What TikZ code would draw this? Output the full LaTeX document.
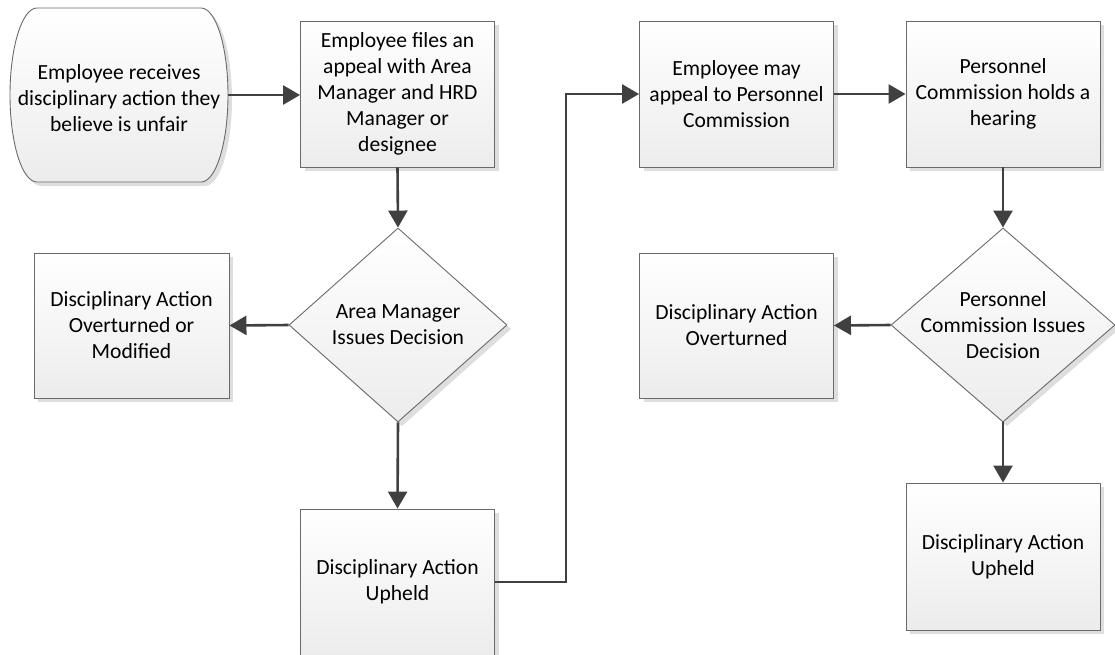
\documentclass[tikz,border=0pt]{standalone}
\usepackage{fontspec}
\setmainfont{Carlito}
\usetikzlibrary{arrows.meta,shapes.geometric,shadows}
\definecolor{edgegray}{HTML}{6A6A6A}
\definecolor{linkgray}{HTML}{404040}
\definecolor{shadegray}{HTML}{ECECEC}
\definecolor{shadowgray}{HTML}{DEDEDE}
\tikzset{
  fillstyle/.style={draw=edgegray, line width=0.9pt, top color=white, bottom color=shadegray,
    drop shadow={shadow xshift=4pt, shadow yshift=-4pt, fill=shadowgray, opacity=1}},
  boxnode/.style={fillstyle, rectangle, minimum width=194pt, minimum height=146pt, inner sep=0pt,
    align=center, font=\fontsize{21.6}{26}\selectfont},
  decnode/.style={fillstyle, diamond, inner sep=0pt},
  txt/.style={align=center, font=\fontsize{21.6}{26}\selectfont, inner sep=0pt},
  link/.style={draw=linkgray, line width=2.6pt, -{Triangle[length=17pt,width=19pt]}},
}
\begin{document}
\begin{tikzpicture}[x=1pt,y=-1pt]
\useasboundingbox (0,0) rectangle (1115,654);
% start terminator
\path[fillstyle] (37,8) -- (201,8) arc[start angle=-90, end angle=90, x radius=27, y radius=87]
  -- (37,182) arc[start angle=90, end angle=270, x radius=27, y radius=87] -- cycle;
\node[txt] (start) at (119,98) {Employee receives\\disciplinary action they\\believe is unfair};
\coordinate (startE) at (228,95);
% boxes
\node[boxnode] (file) at (397.5,94) {Employee files an\\appeal with Area\\Manager and HRD\\Manager or\\designee};
\node[boxnode, minimum width=218pt, minimum height=194pt, decnode, label={[txt]center:Area Manager\\Issues Decision}] (d1) at (398,325) {};
\node[boxnode, minimum width=195pt, minimum height=145pt] (om) at (131.5,325.5) {Disciplinary Action\\Overturned or\\Modified};
\node[boxnode] (up1) at (397.5,582) {Disciplinary Action\\Upheld};
\node[boxnode] (appeal) at (736.5,94) {Employee may\\appeal to Personnel\\Commission};
\node[boxnode] (hearing) at (1003,94) {Personnel\\Commission holds a\\hearing};
\node[boxnode, minimum width=224pt, minimum height=194pt, decnode, label={[txt]center:Personnel\\Commission Issues\\Decision}] (d2) at (1003,325) {};
\node[boxnode, minimum height=145pt] (ov) at (736.5,325.5) {Disciplinary Action\\Overturned};
\node[boxnode, minimum height=147pt] (up2) at (1003,556.5) {Disciplinary Action\\Upheld};
% connectors
\draw[link] (startE) -- (file.west |- startE);
\draw[link] (file.south) -- (d1.north);
\draw[link] (d1.west) -- (om.east);
\draw[link] (d1.south) -- (up1.north);
\coordinate (bend) at (566,582);
\draw[link] (up1.east) -- (bend) |- (appeal.west);
\draw[link] (appeal.east) -- (hearing.west);
\draw[link] (hearing.south) -- (d2.north);
\draw[link] (d2.west) -- (ov.east);
\draw[link] (d2.south) -- (up2.north);
\end{tikzpicture}
\end{document}
